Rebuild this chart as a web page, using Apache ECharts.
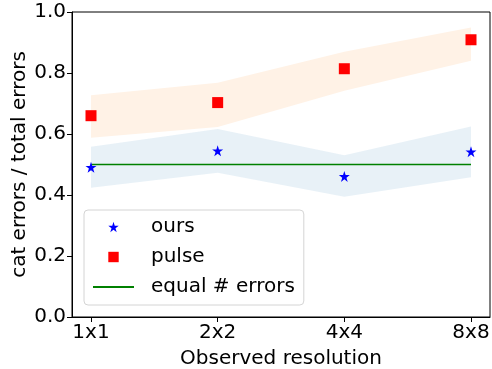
<!DOCTYPE html>
<html>
<head>
<meta charset="utf-8">
<script src="https://cdn.jsdelivr.net/npm/echarts@6/dist/echarts.min.js"></script>
<style>
  html, body { margin: 0; padding: 0; background: #fff; }
  #chart { width: 492px; height: 369px; }
</style>
</head>
<body>
<div id="chart"></div>
<script>
const resolutions = ["1x1", "2x2", "4x4", "8x8"];
const oursMean = [0.491, 0.545, 0.461, 0.542];
const oursLow = [0.424, 0.473, 0.394, 0.458];
const oursHigh = [0.558, 0.616, 0.530, 0.625];
const pulseMean = [0.660, 0.703, 0.814, 0.909];
const pulseLow = [0.588, 0.623, 0.742, 0.840];
const pulseHigh = [0.727, 0.768, 0.870, 0.949];
const equalLevel = [0.5, 0.5, 0.5, 0.5];
const yTicks = [0, 0.2, 0.4, 0.6, 0.8, 1.0];

const FONT = "DejaVu Sans";
const STAR = "path://M50 0 L61.23 34.55 L97.55 34.55 L68.16 55.9 L79.39 90.45 L50 69.1 L20.61 90.45 L31.84 55.9 L2.45 34.55 L38.77 34.55 Z";

const pts = (arr) => arr.map((v, i) => [i, v]);

// fill_between style band, drawn as one polygon through the axis scales
const band = (name, lo, hi, color) => ({
  name: name, type: "custom", silent: true, z: 1,
  data: lo.map((v, i) => [i, v, hi[i]]),
  encode: { x: 0, y: [1, 2] },
  renderItem: (params, api) => {
    if (params.dataIndex !== 0) return null;
    const upper = hi.map((v, i) => api.coord([i, v]));
    const lower = lo.map((v, i) => api.coord([i, v])).reverse();
    return {
      type: "polygon",
      shape: { points: upper.concat(lower) },
      style: { fill: color },
    };
  },
});

const chart = echarts.init(document.getElementById("chart"));
chart.setOption({
  animation: false,
  textStyle: { fontFamily: FONT },
  grid: {
    left: 72, right: 2, top: 12, bottom: 52,
    outerBoundsMode: "none", containLabel: false,
    show: true, borderColor: "#000", borderWidth: 1, backgroundColor: "transparent",
  },
  legend: {
    data: [
      "ours",
      "pulse",
      { name: "equal # errors", itemStyle: { opacity: 0 } },
    ],
    orient: "vertical",
    left: 84, top: 210,
    padding: [7, 9, 8, 8],
    itemWidth: 41, itemHeight: 13, itemGap: 10,
    borderColor: "#d4d4d4", borderWidth: 1, borderRadius: 4,
    backgroundColor: "#fff",
    textStyle: { fontSize: 20, color: "#000", fontFamily: FONT, lineHeight: 20, padding: [0, 0, 0, 12] },
  },
  xAxis: {
    type: "value", min: -0.15, max: 3.15,
    name: "Observed resolution", nameLocation: "middle", nameGap: 32, nameMoveOverlap: false,
    nameTextStyle: { fontSize: 20, color: "#000" },
    axisLine: { onZero: false, lineStyle: { color: "#000", width: 1 } },
    splitLine: { show: false },
    axisTick: { show: true, length: 5, lineStyle: { color: "#000" }, customValues: [0, 1, 2, 3] },
    axisLabel: {
      fontSize: 20, color: "#000", margin: 6,
      customValues: [0, 1, 2, 3],
      formatter: (v) => resolutions[Math.round(v)],
    },
  },
  yAxis: {
    type: "value", min: 0, max: 1, interval: 0.2,
    name: "cat errors / total errors", nameLocation: "middle", nameGap: 42, nameMoveOverlap: false,
    nameTextStyle: { fontSize: 20, color: "#000" },
    axisLine: { show: true, onZero: false, lineStyle: { color: "#000", width: 1 } },
    splitLine: { show: false },
    axisTick: { show: true, length: 5, lineStyle: { color: "#000" }, customValues: yTicks },
    axisLabel: { fontSize: 20, color: "#000", margin: 6, customValues: yTicks, formatter: (v) => v.toFixed(1) },
  },
  series: [
    band("pulseBand", pulseLow, pulseHigh, "rgba(255,127,14,0.1)"),
    band("oursBand", oursLow, oursHigh, "rgba(31,119,180,0.1)"),
    {
      name: "equal # errors", type: "line", data: pts(equalLevel),
      symbol: "none", lineStyle: { color: "#008000", width: 1.5 }, itemStyle: { color: "#008000" }, z: 3,
    },
    {
      name: "ours", type: "line", data: pts(oursMean),
      symbol: STAR, symbolSize: 11, showSymbol: true,
      lineStyle: { width: 0, opacity: 0 }, itemStyle: { color: "#0000ff" }, z: 4,
    },
    {
      name: "pulse", type: "line", data: pts(pulseMean),
      symbol: "rect", symbolSize: 11, showSymbol: true,
      lineStyle: { width: 0, opacity: 0 }, itemStyle: { color: "#ff0000" }, z: 4,
    },
  ],
});
</script>
</body>
</html>
